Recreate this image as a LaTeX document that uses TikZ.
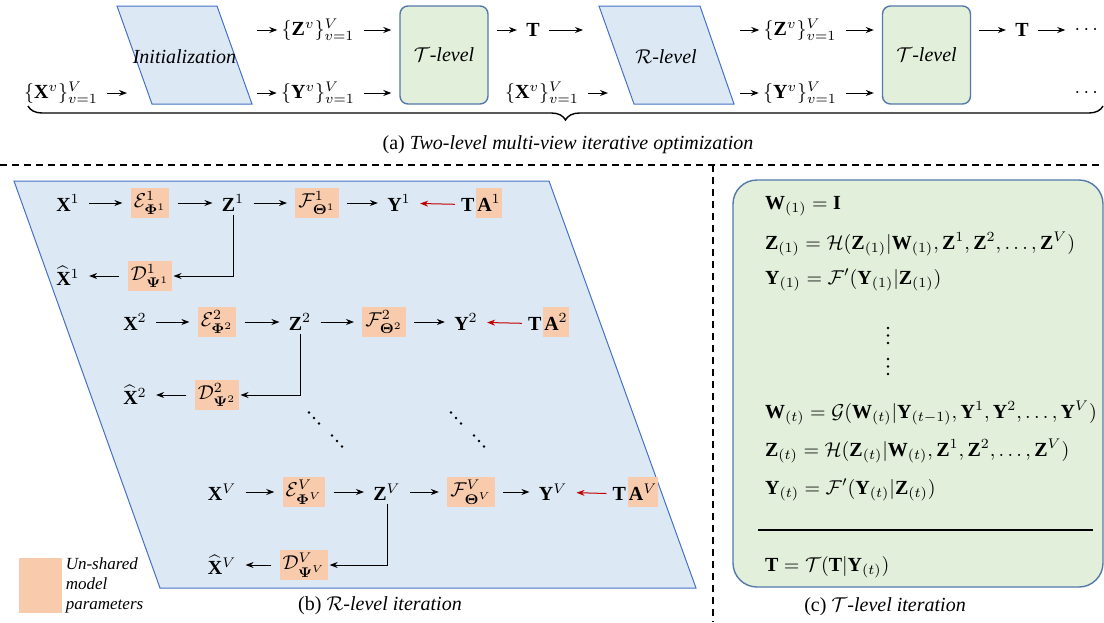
\documentclass[tikz,border=0pt]{standalone}
\usepackage{amsmath, amssymb}
\usepackage{fontspec}
\setmainfont{Liberation Serif}
\usetikzlibrary{arrows.meta, decorations.pathreplacing, calc, positioning}
\definecolor{figB}{RGB}{221,232,245}
\definecolor{figBd}{RGB}{68,114,196}
\definecolor{figG}{RGB}{226,239,218}
\definecolor{figGd}{RGB}{84,121,171}
\definecolor{figO}{RGB}{248,203,173}
\definecolor{figR}{RGB}{192,0,0}
\tikzset{
  arr/.style={-{Stealth[length=4pt,width=3pt]}, line width=0.5pt, shorten <=4pt, shorten >=4pt},
  lbl/.style={inner sep=0.5pt},
  unshared/.style={fill=figO, inner xsep=1.5pt, inner ysep=0pt, minimum height=15pt},
  tlevel/.style={draw=figGd, fill=figG, rounded corners=4pt, line width=0.7pt, minimum width=44pt, minimum height=49pt},
  sepline/.style={dash pattern=on 3.5pt off 2.5pt, line width=0.9pt},
  slanted/.style={draw=figBd, fill=figB, line width=0.5pt}
}

\begin{document}
\begin{tikzpicture}[x=0.5pt, y=-0.5pt]
\useasboundingbox (0,0) rectangle (1104,622);
% ======== (a): two-level iteration chain ========
\draw[slanted] (117,6) -- (217,6) -- (252,104) -- (152,104) -- cycle;
\node (init) at (184.5,57) {\textit{Initialization}};
\node[lbl] (xset) at (61,93) {$\{\mathbf{X}^v\}_{v=1}^V$};
\coordinate (initin) at (135,93);
\coordinate (initz) at (249,30);
\coordinate (inity) at (249,93);
\node[lbl] (zset1) at (318,30) {$\{\mathbf{Z}^v\}_{v=1}^V$};
\node[lbl] (yset1) at (318,93) {$\{\mathbf{Y}^v\}_{v=1}^V$};
\node[tlevel] (tlev1) at (444,55) {$\mathcal{T}$\textit{-level}};
\node[lbl] (tA) at (533,30) {$\mathbf{T}$};
\draw[arr] (xset) -- (initin);
\draw[arr, shorten >=1.5pt] (initz) -- (zset1);
\draw[arr, shorten >=1.5pt] (inity) -- (yset1);
\draw[arr] (zset1) -- (zset1 -| tlev1.west);
\draw[arr] (yset1) -- (yset1 -| tlev1.west);
\draw[arr] (tlev1.east |- tA) -- (tA);
% second half: R-level then T-level again
\draw[slanted] (599,6) -- (700,6) -- (734,104) -- (634,104) -- cycle;
\node (rlev) at (666,57) {$\mathcal{R}$\textit{-level}};
\coordinate (rinz) at (591,30);
\coordinate (riny) at (616,93);
\coordinate (routz) at (732,30);
\coordinate (routy) at (732,93);
\node[lbl] (xset2) at (542,93) {$\{\mathbf{X}^v\}_{v=1}^V$};
\node[lbl] (zset2) at (800,30) {$\{\mathbf{Z}^v\}_{v=1}^V$};
\node[lbl] (yset2) at (800,93) {$\{\mathbf{Y}^v\}_{v=1}^V$};
\node[tlevel] (tlev2) at (926.5,55) {$\mathcal{T}$\textit{-level}};
\node[lbl] (tB) at (1022,30) {$\mathbf{T}$};
\node[lbl] (more1) at (1088,30) {$\cdots$};
\node[lbl] (more2) at (1088,93) {$\cdots$};
\draw[arr] (tA) -- (rinz);
\draw[arr] (xset2) -- (riny);
\draw[arr, shorten >=1.5pt] (routz) -- (zset2);
\draw[arr, shorten >=1.5pt] (routy) -- (yset2);
\draw[arr] (zset2) -- (zset2 -| tlev2.west);
\draw[arr] (yset2) -- (yset2 -| tlev2.west);
\draw[arr] (tlev2.east |- tB) -- (tB);
\draw[arr] (tB) -- (more1);
\draw[decorate, decoration={brace, mirror, amplitude=7pt}, line width=0.7pt] (28,106) -- (1103,106);
\node (capa) at (568,145) {(a) \textit{Two-level multi-view iterative optimization}};
% separators
\draw[sepline] (0,165) -- (1104,165);
\draw[sepline] (713,165) -- (713,622);
% ======== (b): R-level iteration ========
\draw[slanted] (14,181) -- (549,181) -- (696,588) -- (160,588) -- cycle;
\foreach \i/\x/\y in {1/68/203, 2/135/322, V/222/492}{
  \node[lbl] (x\i) at (\x,\y) {$\mathbf{X}^{\i}$};
  \node[unshared] (e\i) at (\x+82,\y) {$\mathcal{E}^{\i}_{\boldsymbol{\Phi}^{\i}}$};
  \node[lbl] (z\i) at (\x+165,\y) {$\mathbf{Z}^{\i}$};
  \node[unshared] (f\i) at (\x+249,\y) {$\mathcal{F}^{\i}_{\boldsymbol{\Theta}^{\i}}$};
  \node[lbl] (y\i) at (\x+331,\y) {$\mathbf{Y}^{\i}$};
  \node[unshared, inner xsep=0.5pt] (a\i) at (\x+421,\y) {$\mathbf{A}^{\i}$};
  \node[lbl, anchor=base east] (t\i) at (a\i.base west) {$\mathbf{T}$};
  \node[unshared] (d\i) at (\x+82,\y+73) {$\mathcal{D}^{\i}_{\boldsymbol{\Psi}^{\i}}$};
  \node[lbl] (xh\i) at (\x,\y+73) {$\widehat{\mathbf{X}}^{\i}$};
  \draw[arr] (x\i) -- (e\i);
  \draw[arr] (e\i) -- (z\i);
  \draw[arr] (z\i) -- (f\i);
  \draw[arr] (f\i) -- (y\i);
  \draw[arr, figR, shorten <=2.5pt] (t\i) -- (y\i);
  \draw[arr, shorten <=1pt, shorten >=0.5pt] (z\i) |- (d\i);
  \draw[arr] (d\i) -- (xh\i);
}
% the views in between
\foreach \cx/\cy in {314/418, 337/441, 456/418, 479/441}
  \foreach \k in {-1,0,1} \fill (\cx+\k*5,\cy+\k*5.5) circle (0.7pt);
\node[fill=figO, minimum width=21.5pt, minimum height=27.5pt, inner sep=0] (key) at (40.5,585.5) {};
\node[right=1.5pt of key, align=left, inner sep=0, font=\fontsize{8.5}{10}\selectfont\itshape] (keytext) {Un-shared\\model\\parameters};
\node (capb) at (380,606) {(b) $\mathcal{R}$\textit{-level iteration}};
% ======== (c): T-level iteration ========
\draw[draw=figGd, fill=figG, line width=0.7pt, rounded corners=12pt] (733,180) rectangle (1103,587);
\node[anchor=base west] (w1) at (758,209) {$\mathbf{W}_{(1)} = \mathbf{I}$};
\node[anchor=base west] (zc1) at (758,249) {$\mathbf{Z}_{(1)} = \mathcal{H}(\mathbf{Z}_{(1)}|\mathbf{W}_{(1)},\mathbf{Z}^1,\mathbf{Z}^2,\dots,\mathbf{Z}^V)$};
\node[anchor=base west] (yc1) at (758,284) {$\mathbf{Y}_{(1)} = \mathcal{F}'(\mathbf{Y}_{(1)}|\mathbf{Z}_{(1)})$};
\foreach \cy in {328,335.5,343,359,366.5,374} \fill (888,\cy) circle (0.7pt);
\node[anchor=base west] (wt) at (758,418) {$\mathbf{W}_{(t)} = \mathcal{G}(\mathbf{W}_{(t)}|\mathbf{Y}_{(t-1)},\mathbf{Y}^1,\mathbf{Y}^2,\dots,\mathbf{Y}^V)$};
\node[anchor=base west] (zct) at (758,456) {$\mathbf{Z}_{(t)} = \mathcal{H}(\mathbf{Z}_{(t)}|\mathbf{W}_{(t)},\mathbf{Z}^1,\mathbf{Z}^2,\dots,\mathbf{Z}^V)$};
\node[anchor=base west] (yct) at (758,494) {$\mathbf{Y}_{(t)} = \mathcal{F}'(\mathbf{Y}_{(t)}|\mathbf{Z}_{(t)})$};
\draw[line width=0.8pt] (758,530) -- (1093,530);
\node[anchor=base west] (tc) at (758,571) {$\mathbf{T} = \mathcal{T}(\mathbf{T}|\mathbf{Y}_{(t)})$};
\node (capc) at (885,607) {(c) $\mathcal{T}$\textit{-level iteration}};
\end{tikzpicture}
\end{document}
